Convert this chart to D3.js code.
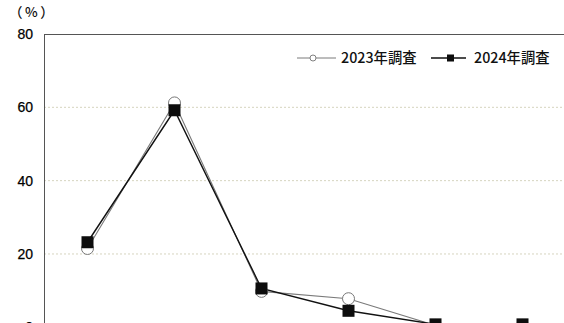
<!DOCTYPE html>
<html><head><meta charset="utf-8">
<script src="https://cdn.jsdelivr.net/npm/d3@7"></script>
<style>
html,body{margin:0;padding:0;background:#fff;overflow:hidden}
svg{display:block}
</style></head>
<body>
<script>
const categories = ["A","B","C","D","E","F"];
const series2023 = [21.5, 61.2, 9.8, 7.8, 0.5, 0.5];
const series2024 = [23.2, 59.2, 10.6, 4.5, 0.8, 0.8];
const yTicks = [0, 20, 40, 60, 80];
const seriesNames = ["2023年調査", "2024年調査"];

const W = 564, H = 323;
const svg = d3.select("body").append("svg").attr("width", W).attr("height", H);

const mLeft = 44, mTop = 34, plotW = 522, plotH = 293.3;
const x = d3.scaleBand().domain(categories).range([mLeft, mLeft + plotW]);
const y = d3.scaleLinear().domain([0, 80]).range([mTop + plotH, mTop]);

// gridlines
svg.append("g").selectAll("line").data(yTicks.filter(t => t > 0 && t < 80)).join("line")
  .attr("x1", mLeft).attr("x2", mLeft + plotW)
  .attr("y1", d => y(d)).attr("y2", d => y(d))
  .attr("stroke", "#d6d4bf").attr("stroke-width", 1).attr("stroke-dasharray", "2,2");

// frame
svg.append("rect").attr("x", mLeft + 0.5).attr("y", mTop + 0.5).attr("width", plotW).attr("height", plotH)
  .attr("fill", "none").attr("stroke", "#555").attr("stroke-width", 1);

// y axis labels
const yAxis = d3.axisLeft(y).tickValues(yTicks).tickSize(0).tickPadding(11);
const gy = svg.append("g").attr("transform", `translate(${mLeft},0)`).call(yAxis);
gy.select(".domain").remove();
gy.selectAll("text").attr("font-family", "Arial, 'Liberation Sans', sans-serif")
  .attr("font-size", 14).attr("fill", "#000").attr("stroke", "#000").attr("stroke-width", 0.25);

svg.append("text").attr("x", 9).attr("y", 16.5).text("（%）")
  .attr("font-family", "'Noto Sans CJK JP', sans-serif").attr("font-size", 13.5)
  .attr("letter-spacing", 2.5)
  .attr("font-weight", 500).attr("fill", "#111");

const cx = d => x(d) + x.bandwidth() / 2;
const line = d3.line().x((d, i) => cx(categories[i])).y(d => y(d));

// 2023
svg.append("path").datum(series2023).attr("d", line).attr("fill", "none")
  .attr("stroke", "#7a7a7a").attr("stroke-width", 1.1);
// 2024
svg.append("path").datum(series2024).attr("d", line).attr("fill", "none")
  .attr("stroke", "#111").attr("stroke-width", 1.4);

svg.append("g").selectAll("circle").data(series2023).join("circle")
  .attr("cx", (d, i) => cx(categories[i])).attr("cy", d => y(d)).attr("r", 6)
  .attr("fill", "#fff").attr("stroke", "#777").attr("stroke-width", 1);

const sq = 12;
svg.append("g").selectAll("rect").data(series2024).join("rect")
  .attr("x", (d, i) => cx(categories[i]) - sq / 2).attr("y", d => y(d) - sq / 2)
  .attr("width", sq).attr("height", sq).attr("fill", "#0d0d0d");

// legend
const lg = svg.append("g");
const ly = 58;
lg.append("line").attr("x1", 297).attr("x2", 336).attr("y1", ly).attr("y2", ly)
  .attr("stroke", "#7a7a7a").attr("stroke-width", 1);
lg.append("circle").attr("cx", 313).attr("cy", ly).attr("r", 3)
  .attr("fill", "#fff").attr("stroke", "#808080");
lg.append("text").attr("x", 341).attr("y", ly).attr("dy", "0.36em").text(seriesNames[0])
  .attr("font-family", "'Noto Sans CJK JP', sans-serif").attr("font-size", 14.3)
  .attr("font-weight", 500).attr("fill", "#111");
lg.append("line").attr("x1", 431).attr("x2", 466).attr("y1", ly).attr("y2", ly)
  .attr("stroke", "#111").attr("stroke-width", 1.4);
lg.append("rect").attr("x", 447).attr("y", ly - 3.5).attr("width", 7).attr("height", 7).attr("fill", "#0d0d0d");
lg.append("text").attr("x", 474).attr("y", ly).attr("dy", "0.36em").text(seriesNames[1])
  .attr("font-family", "'Noto Sans CJK JP', sans-serif").attr("font-size", 14.3)
  .attr("font-weight", 500).attr("fill", "#111");
</script>
</body></html>
